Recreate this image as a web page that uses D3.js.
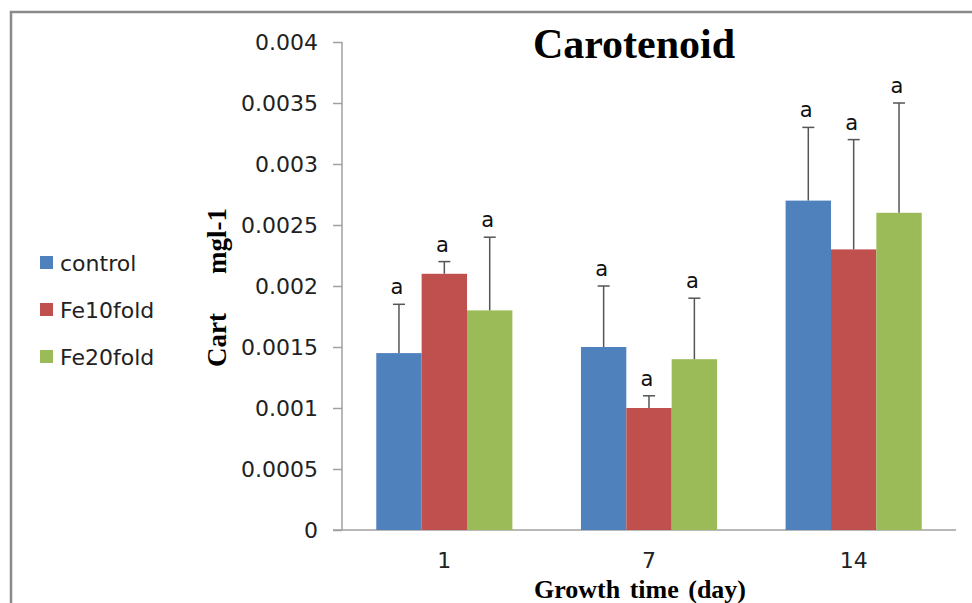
<!DOCTYPE html>
<html lang="en">
<head>
    <meta charset="UTF-8">
    <title>Carotenoid</title>
    <script src="https://d3js.org/d3.v7.min.js"></script>
    <style>
        body { margin: 0; background: #fff; }
        .tick-label { font: 22px "DejaVu Sans", sans-serif; fill: #222; }
        .serif-bold { font-family: "Liberation Serif", "Times New Roman", serif; font-weight: bold; fill: #000; }
        .err { stroke: #555; stroke-width: 1.5px; }
        .sig { font: 21px "DejaVu Sans", sans-serif; fill: #111; }
    </style>
</head>
<body>
    <svg width="972" height="603"></svg>
    <script>
        // data
        const days = ['1', '7', '14'];
        const seriesNames = ['control', 'Fe10fold', 'Fe20fold'];
        const colors = ['#4f81bd', '#c0504d', '#9bbb59'];
        const means = [
            [0.00145, 0.0015, 0.0027],   // control
            [0.0021, 0.001, 0.0023],     // Fe10fold
            [0.0018, 0.0014, 0.0026]     // Fe20fold
        ];
        const errTops = [
            [0.00185, 0.002, 0.0033],
            [0.0022, 0.0011, 0.0032],
            [0.0024, 0.0019, 0.0035]
        ];
        const sigLetters = [
            ['a', 'a', 'a'],
            ['a', 'a', 'a'],
            ['a', 'a', 'a']
        ];
        const yTicks = [0, 0.0005, 0.001, 0.0015, 0.002, 0.0025, 0.003, 0.0035, 0.004];

        const svg = d3.select('svg');

        // outer frame
        svg.append('path')
            .attr('d', 'M11,620V12H980')
            .attr('fill', 'none')
            .attr('stroke', '#8a8a8a')
            .attr('stroke-width', 2.5);

        const x0 = d3.scaleBand().domain(days).range([342, 956]).paddingInner(0.335).paddingOuter(0.1675);
        const x1 = d3.scaleBand().domain(seriesNames).range([0, x0.bandwidth()]);
        const y = d3.scaleLinear().domain([0, 0.004]).range([530, 42]);

        // y axis
        const yAxis = svg.append('g')
            .attr('transform', 'translate(342,0)')
            .call(d3.axisLeft(y).tickValues(yTicks).tickSize(9).tickPadding(15)
                .tickFormat(d => d === 0 ? '0' : String(+d.toFixed(4))));
        yAxis.select('.domain').attr('stroke', '#a0a0a0').attr('stroke-width', 1.5).attr('d', 'M0,42V530');
        yAxis.selectAll('.tick line').attr('stroke', '#a0a0a0').attr('stroke-width', 1.5);
        yAxis.selectAll('.tick text').attr('class', 'tick-label').attr('dy', '0.36em');

        // x axis
        const xAxis = svg.append('g')
            .attr('transform', 'translate(0,530)')
            .call(d3.axisBottom(x0).tickSize(0).tickPadding(38));
        xAxis.select('.domain').attr('stroke', '#a0a0a0').attr('stroke-width', 1.5).attr('d', 'M333,0H956');
        xAxis.selectAll('.tick text').attr('class', 'tick-label').attr('dy', '0');

        // bars
        const groups = svg.append('g').selectAll('g')
            .data(days)
            .join('g')
            .attr('transform', d => `translate(${x0(d)},0)`);

        seriesNames.forEach((s, si) => {
            groups.append('rect')
                .attr('x', x1(s))
                .attr('width', x1.bandwidth())
                .attr('y', (d, i) => y(means[si][i]))
                .attr('height', (d, i) => y(0) - y(means[si][i]))
                .attr('fill', colors[si]);
        });

        // error bars and letters
        seriesNames.forEach((s, si) => {
            const cx = x1(s) + x1.bandwidth() / 2;
            groups.append('line')
                .attr('class', 'err')
                .attr('x1', cx).attr('x2', cx)
                .attr('y1', (d, i) => y(means[si][i]))
                .attr('y2', (d, i) => y(errTops[si][i]));
            groups.append('line')
                .attr('class', 'err')
                .attr('x1', cx - 6).attr('x2', cx + 6)
                .attr('y1', (d, i) => y(errTops[si][i]))
                .attr('y2', (d, i) => y(errTops[si][i]));
            groups.append('text')
                .attr('class', 'sig')
                .attr('text-anchor', 'middle')
                .attr('x', cx - 2)
                .attr('y', (d, i) => y(errTops[si][i]) - 10)
                .text((d, i) => sigLetters[si][i]);
        });

        // title
        svg.append('text')
            .attr('class', 'serif-bold')
            .attr('x', 634).attr('y', 58)
            .attr('text-anchor', 'middle')
            .style('font-size', '42px')
            .text('Carotenoid');

        // axis titles
        svg.append('text')
            .attr('class', 'serif-bold')
            .attr('x', 640).attr('y', 598)
            .attr('text-anchor', 'middle')
            .style('font-size', '26px')
            .style('word-spacing', '3px')
            .text('Growth time (day)');

        svg.append('text')
            .attr('class', 'serif-bold')
            .attr('transform', 'translate(226,340) rotate(-90)')
            .attr('text-anchor', 'middle')
            .style('font-size', '27px')
            .text('Cart');
        svg.append('text')
            .attr('class', 'serif-bold')
            .attr('transform', 'translate(226,241) rotate(-90)')
            .attr('text-anchor', 'middle')
            .style('font-size', '27px')
            .text('mgl-1');

        // legend
        const legend = svg.append('g').selectAll('g')
            .data(seriesNames)
            .join('g')
            .attr('transform', (d, i) => `translate(40,${263 + i * 47})`);
        legend.append('rect')
            .attr('x', 0).attr('y', -7)
            .attr('width', 13).attr('height', 13)
            .attr('fill', (d, i) => colors[i]);
        legend.append('text')
            .attr('class', 'tick-label')
            .attr('x', 20).attr('dy', '0.36em')
            .text(d => d);
    </script>
</body>
</html>
